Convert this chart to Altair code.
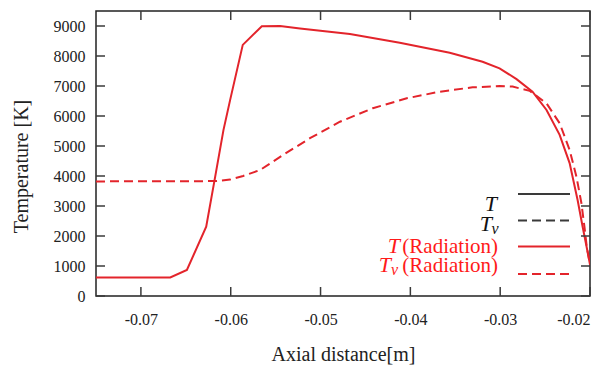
import altair as alt
import pandas as pd

# Axial position [m] and temperatures [K] with radiation
x_T = [-0.075, -0.06673, -0.06488, -0.06273, -0.06173, -0.06081, -0.06007,
       -0.05866, -0.05654, -0.05451, -0.05229, -0.04673, -0.04118, -0.03562,
       -0.03196, -0.03007, -0.02818, -0.02640, -0.02484, -0.02338, -0.02227,
       -0.02138, -0.02082, -0.02038, -0.02000]
T_rad = [620, 620, 867, 2310, 3980, 5530, 6530,
         8370, 8990, 9000, 8920, 8730, 8440, 8110,
         7810, 7590, 7230, 6810, 6200, 5370, 4430,
         3200, 2310, 1640, 1050]

x_Tv = [-0.075, -0.06173, -0.06007, -0.05862, -0.05673, -0.05418, -0.05118,
        -0.04784, -0.04418, -0.04040, -0.03673, -0.03307, -0.03007, -0.02862,
        -0.02673, -0.02484, -0.02338, -0.02227, -0.02151, -0.02096, -0.02062,
        -0.02036, -0.02000]
Tv_rad = [3820, 3830, 3880, 4000, 4200, 4700, 5260,
          5810, 6260, 6590, 6810, 6955, 7000, 6980,
          6840, 6420, 5760, 4870, 3980, 3100, 2310,
          1640, 1050]

x_ticks = [-0.07, -0.06, -0.05, -0.04, -0.03, -0.02]
y_ticks = [0, 1000, 2000, 3000, 4000, 5000, 6000, 7000, 8000, 9000]

legend_T = "T"
legend_v = "v"
legend_rad = "(Radiation)"

W, H = 494, 285
LEFT, TOP = 96, 11
SERIF = "Liberation Serif"
RED = "#e3242b"
DARK = "#3a3a3a"

df_T = pd.DataFrame({"x": x_T, "T": T_rad})
df_Tv = pd.DataFrame({"x": x_Tv, "T": Tv_rad})
df_xt = pd.DataFrame({"x": x_ticks})
df_yt = pd.DataFrame({"T": y_ticks})
one = pd.DataFrame({"k": [0]})

xscale = alt.Scale(domain=[-0.075, -0.02], nice=False, zero=False)
yscale = alt.Scale(domain=[0, 9500], nice=False)

# plain hyphen instead of the typographic minus
xaxis = alt.Axis(values=x_ticks, ticks=False, grid=False, domain=False,
                 labelExpr="replace(format(datum.value, '.2f'), '\u2212', '-')",
                 labelOverlap=False,
                 labelFont=SERIF, labelFontSize=16, labelColor="#222", labelPadding=15,
                 title="Axial distance[m]", titleFont=SERIF, titleFontSize=20,
                 titleFontWeight="normal", titleColor="#222",
                 titleBaseline="alphabetic", titleY=64)
yaxis = alt.Axis(values=y_ticks, format="d", ticks=False, grid=False, domain=False,
                 labelOverlap=False,
                 labelFont=SERIF, labelFontSize=16, labelColor="#222", labelPadding=11,
                 title="Temperature [K]", titleFont=SERIF, titleFontSize=20,
                 titleFontWeight="normal", titleColor="#222",
                 titleBaseline="alphabetic", titleX=-69, titleY=155, titleAngle=270)

X = alt.X("x:Q", scale=xscale, axis=xaxis)
Y = alt.Y("T:Q", scale=yscale, axis=yaxis)

line_T = alt.Chart(df_T).mark_line(color=RED, strokeWidth=2, clip=True).encode(x=X, y=Y)
line_Tv = alt.Chart(df_Tv).mark_line(color=RED, strokeWidth=2, strokeDash=[9, 5], clip=True).encode(x=X, y=Y)

# inward ticks on all four sides
tk = dict(color=DARK, strokeWidth=1.5)
ticks_bottom = alt.Chart(df_xt).mark_rule(**tk).encode(x=X, y=alt.value(H), y2=alt.value(H - 9))
ticks_top = alt.Chart(df_xt).mark_rule(**tk).encode(x=X, y=alt.value(0), y2=alt.value(9))
ticks_left = alt.Chart(df_yt).mark_rule(**tk).encode(y=Y, x=alt.value(0), x2=alt.value(9))
ticks_right = alt.Chart(df_yt).mark_rule(**tk).encode(y=Y, x=alt.value(W - 9), x2=alt.value(W))


def text(t, x, y, size, color, style="normal"):
    return alt.Chart(one).mark_text(text=t, align="right", baseline="alphabetic",
                                    font=SERIF, fontSize=size, fontStyle=style,
                                    color=color).encode(x=alt.value(x - LEFT), y=alt.value(y - TOP))


def sample(y, color, dash=None):
    kw = dict(color=color, strokeWidth=2)
    if dash:
        kw["strokeDash"] = dash
    return alt.Chart(one).mark_rule(**kw).encode(
        x=alt.value(518 - LEFT), x2=alt.value(570 - LEFT), y=alt.value(y - TOP))


legend = [
    text(legend_T, 497, 211, 22, "#111", "italic"),
    sample(194, DARK),
    text(legend_T, 492, 230.5, 22, "#111", "italic"),
    text(legend_v, 498.5, 233.5, 16, "#111", "italic"),
    sample(220.5, DARK, [9, 5]),
    text(legend_rad, 498, 253, 21, "#ff1a1a"),
    text(legend_T, 400, 253, 22, "#ff1a1a", "italic"),
    sample(246.5, RED),
    text(legend_rad, 498, 272, 21, "#ff1a1a"),
    text(legend_v, 398, 275, 16, "#ff1a1a", "italic"),
    text(legend_T, 391, 272, 22, "#ff1a1a", "italic"),
    sample(274, RED, [9, 5]),
]

chart = alt.layer(
    line_T, line_Tv, ticks_bottom, ticks_top, ticks_left, ticks_right, *legend
).properties(
    width=W, height=H,
    autosize=alt.AutoSizeParams(type="none"),
    padding={"left": LEFT, "top": TOP, "right": 609 - LEFT - W, "bottom": 365 - TOP - H},
    background="white",
).configure_view(stroke="#222", strokeWidth=1.5)

chart.save("out.html", embed_options={"renderer": "svg", "actions": False})
